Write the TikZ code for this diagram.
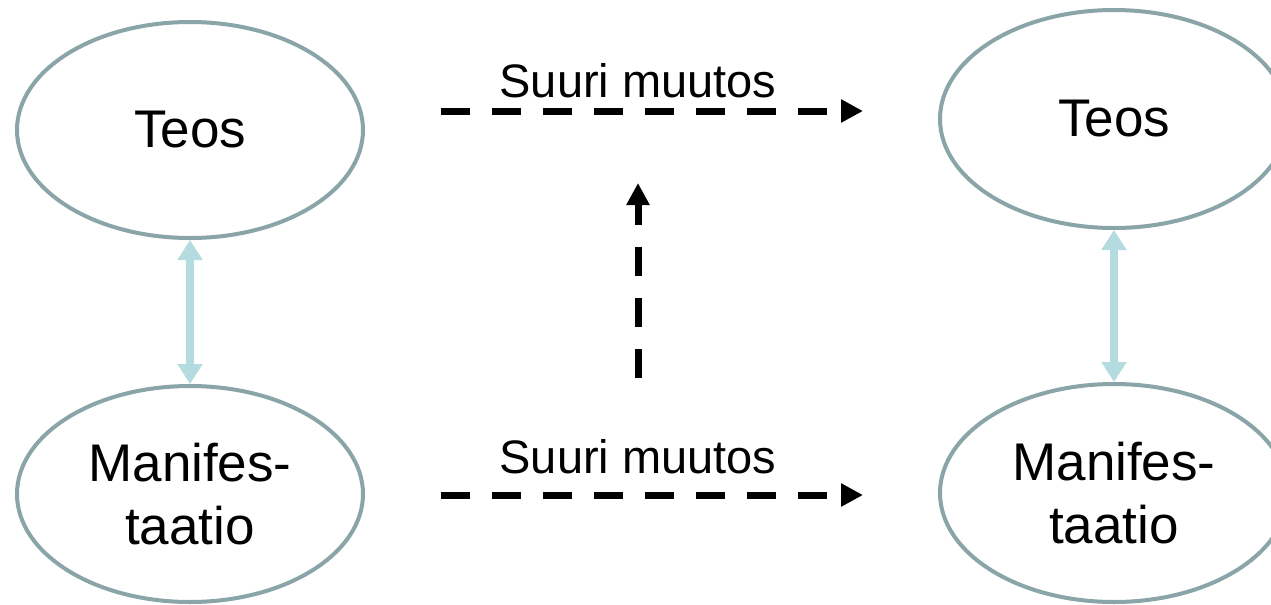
\documentclass[tikz,border=0pt]{standalone}
\usepackage{fontspec}
\setmainfont{Liberation Sans}
\usetikzlibrary{shapes.geometric,arrows.meta}
\definecolor{ellcol}{HTML}{8AA5A8}
\definecolor{linkcol}{HTML}{B4DCE0}
\tikzset{
  entity/.style={ellipse,draw=ellcol,line width=3pt,fill=white,inner sep=0pt,
    minimum width=259.5pt,minimum height=162pt,align=center,
    font=\fontsize{39.75}{47.25}\selectfont},
  entitywide/.style={entity,minimum width=261pt,minimum height=163.5pt},
  link/.style={draw=linkcol,line width=6pt,
    {Triangle[width=18pt,length=15pt]}-{Triangle[width=18pt,length=15pt]}},
  change/.style={draw=black,line width=5.25pt,dash pattern=on 21.75pt off 16.5pt,
    -{Triangle[width=16.5pt,length=16.5pt]}},
  changelabel/.style={anchor=base,inner sep=0pt,font=\fontsize{35.25}{42}\selectfont}
}
\begin{document}
\begin{tikzpicture}[x=0.75pt,y=-0.75pt]
\useasboundingbox[fill=white] (0,0) rectangle (1271,604);
\node[entity] (lt) at (190,130) {Teos};
\node[entity] (lb) at (190,494) {Manifes-\\taatio};
\node[entitywide] (rt) at (1114,119) {Teos};
\node[entitywide] (rb) at (1114,493) {Manifes-\\taatio};
\draw[link] (lt.south) -- (lb.north);
\draw[link] (rt.south) -- (rb.north);
\coordinate (ts) at (441,111);
\coordinate (te) at (863,111);
\coordinate (bs) at (441,495);
\coordinate (be) at (863,495);
\coordinate (vs) at (638,378);
\coordinate (ve) at (638,183);
\draw[change] (ts) -- (te);
\draw[change] (bs) -- (be);
\draw[change] (vs) -- (ve);
\node[changelabel] (tl) at (638,97) {Suuri muutos};
\node[changelabel] (bl) at (638,473) {Suuri muutos};
\end{tikzpicture}
\end{document}
